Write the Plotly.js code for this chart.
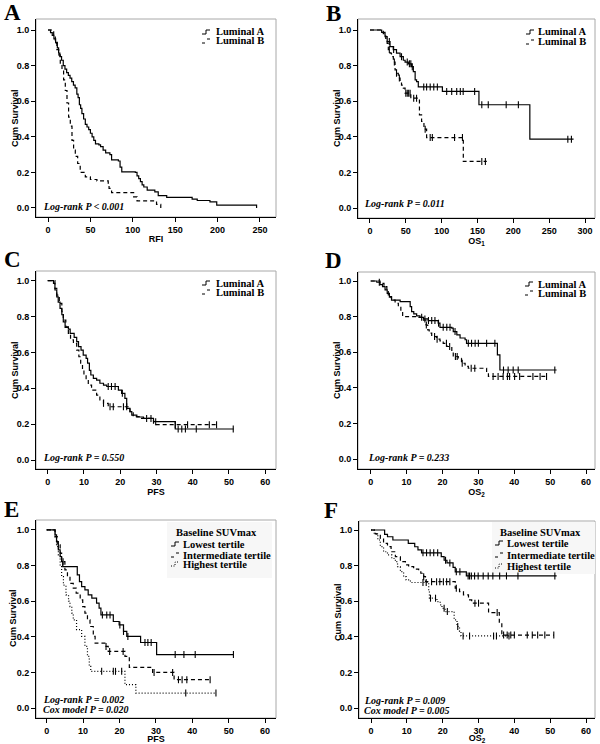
<!DOCTYPE html>
<html><head><meta charset="utf-8">
<script src="https://cdn.plot.ly/plotly-3.0.1.min.js"></script>
<style>html,body{margin:0;padding:0;background:#fff}#chart{width:600px;height:744px}</style>
</head><body><div id="chart"></div>
<script>
// ---------- DATA (Kaplan-Meier step points) ----------
// Panel A : RFI
const A_lumA_t = [0,3,5,7,9,11,12.5,14,16,18,20,22,24,26,28,30,32,34,35.5,37,38.5,40,42,44,46,48,50,52,54,56,60,62,65,68,73,75,83,85,87,103,105,107,109,111,113,117,126,130,140,170,176,191,199,246];
const A_lumA_s = [1,0.985,0.97,0.95,0.93,0.9,0.87,0.85,0.83,0.8,0.78,0.76,0.745,0.73,0.71,0.69,0.675,0.64,0.62,0.58,0.56,0.53,0.5,0.47,0.455,0.44,0.42,0.4,0.38,0.36,0.355,0.345,0.325,0.31,0.3,0.27,0.264,0.23,0.203,0.2,0.18,0.165,0.148,0.13,0.118,0.1,0.09,0.07,0.06,0.05,0.042,0.034,0.016,0];
const A_lumA_c = [];
const A_lumB_t = [0,5,6.7,8.6,10.5,12.6,14.5,16.5,18.4,20.4,22.4,24.3,26.3,28.3,30.2,32.2,35,38,44,50,57.7,71,72,75,101,105,128,133];
const A_lumB_s = [1,0.99,0.96,0.925,0.89,0.86,0.81,0.78,0.72,0.66,0.59,0.51,0.46,0.38,0.325,0.29,0.25,0.2,0.175,0.16,0.152,0.14,0.11,0.086,0.062,0.04,0.02,0];
const A_lumB_c = [];
// Panel B : OS1
const B_lumA_t = [0,13,16.3,21,24,28,32.5,37,42,46.5,49,53.5,58,60.5,63,65,67.4,101,152,223,284];
const B_lumA_s = [1,1,0.987,0.963,0.935,0.907,0.89,0.87,0.85,0.83,0.82,0.81,0.794,0.766,0.72,0.71,0.68,0.655,0.58,0.387,0.387];
const B_lumA_c = [27,33,44,52,55,57,59,75,79,84,89,94,107,114,121,126,130,146,156,165,190,207,276,281];
const B_lumB_t = [0,16,18.6,22,24,25.6,28,30,32.6,35,37,39.5,42,44,46.5,49,57,69,72,75.3,79,130.2,163];
const B_lumB_s = [1,1,0.98,0.953,0.925,0.89,0.87,0.85,0.82,0.776,0.757,0.73,0.71,0.69,0.673,0.645,0.617,0.523,0.486,0.443,0.396,0.262,0.262];
const B_lumB_c = [27,34,37,41,50,52,54,56,61,65,77,84,87,118,129,156,161];
// Panel C : PFS
const C_lumA_t = [0,1.1,1.6,2.0,2.5,2.9,3.4,3.9,4.3,4.8,5.7,6.2,7.3,8.0,8.5,9.2,9.8,10.6,11,11.5,11.9,12.6,13.5,14.4,15.4,16.3,19.5,20.4,21.3,21.8,22.7,23.2,24.6,26.4,29.2,35.2,51.3];
const C_lumA_s = [1,1,0.985,0.948,0.91,0.88,0.846,0.81,0.77,0.74,0.73,0.706,0.684,0.66,0.632,0.613,0.585,0.567,0.54,0.5,0.474,0.455,0.446,0.428,0.418,0.41,0.39,0.372,0.344,0.288,0.27,0.25,0.24,0.232,0.214,0.173,0.173];
const C_lumA_c = [16.7,17.6,18.6,20.6,27.3,28.5,29.8,36,37,38,41,51.2];
const C_lumB_t = [0,1.5,2,2.5,3.2,3.9,4.3,5,5.7,6.3,7.1,8,8.6,9.1,9.6,10,10.6,11.2,12.1,13.5,14.4,15.4,16.7,22.7,23.6,25.5,29.2,46.6];
const C_lumB_s = [1,1,0.957,0.92,0.874,0.827,0.78,0.743,0.706,0.67,0.65,0.613,0.576,0.54,0.5,0.474,0.446,0.418,0.39,0.362,0.335,0.316,0.297,0.27,0.242,0.232,0.197,0.197];
const C_lumB_c = [15.4,17.2,18.1,20.9,21.8,35.2,38.6,44.6,46.6];
// Panel D : OS2
const D_lumA_t = [0,1.2,1.7,2.6,3.3,4,4.6,5.2,5.8,8.2,11,11.4,12,12.8,13.7,14.7,16,18.8,19.3,22.6,23,24,24.9,26.3,26.7,35.3,36,51.8];
const D_lumA_s = [1,1,0.993,0.98,0.968,0.95,0.93,0.91,0.893,0.884,0.856,0.828,0.815,0.804,0.796,0.787,0.778,0.763,0.74,0.735,0.716,0.697,0.68,0.67,0.65,0.585,0.5,0.5];
const D_lumA_c = [2.4,14.2,15.1,16.1,17,17.9,18.9,20.2,21.2,22.1,23.5,27.2,28.1,29.1,30,32.3,34.6,37,38.3,39.7,41.1,51.3];
const D_lumB_t = [0,1.7,2.6,3.7,4.5,4.9,5.8,6.8,7.7,8.4,8.9,13,14.7,15.4,15.9,16.3,17,18.4,19.3,20.2,21.2,22.6,23,24.4,25.3,26.3,27.2,32.3,32.8,49];
const D_lumB_s = [1,1,0.987,0.968,0.94,0.912,0.893,0.875,0.856,0.828,0.8,0.796,0.78,0.753,0.725,0.707,0.688,0.673,0.664,0.65,0.632,0.604,0.576,0.566,0.538,0.52,0.51,0.486,0.464,0.464];
const D_lumB_c = [15.5,17.8,18.5,21.1,22,23.6,24.1,25.5,28,29,34.1,35.5,36.9,38.1,38.7,40.1,41.5,45.2,47.2,49];
// Panel E : PFS by baseline SUVmax tertile
const E_low_t = [0,1.8,2.3,2.7,3.2,3.7,4.1,4.4,8.4,9,9.6,10.5,11.4,12.4,13.7,14.4,14.9,18.3,19.9,21.1,22,25.8,30.2,51.3];
const E_low_s = [1,1,0.972,0.935,0.888,0.85,0.822,0.794,0.748,0.71,0.682,0.664,0.636,0.617,0.589,0.561,0.523,0.486,0.467,0.43,0.402,0.368,0.3,0.3];
const E_low_c = [15.3,16.5,17.4,20.1,21.1,22.3,27,27.8,28.7,35.3,37.7,40.8,51.3];
const E_mid_t = [0,2.3,2.9,3.7,4.1,5,5.7,6.4,7.3,8.1,9.2,9.9,10.5,11.2,11.9,12.8,13.3,16.3,16.9,21.5,22.7,29.1,35,44.9];
const E_mid_s = [1,0.963,0.916,0.87,0.822,0.776,0.738,0.7,0.673,0.645,0.607,0.57,0.533,0.495,0.458,0.402,0.364,0.346,0.318,0.29,0.228,0.2,0.159,0.159];
const E_mid_c = [4.5,16.3,17.3,21,29.5,34.6,36.2,37.2,38.5,44.9];
const E_high_t = [0,1.8,2.3,2.7,3.2,3.7,4.1,4.6,5.3,6,6.4,6.9,7.3,8.2,9.6,10.5,11.2,11.7,12.1,21.5,24.5,46.5];
const E_high_s = [1,1,0.953,0.907,0.86,0.794,0.738,0.69,0.636,0.6,0.57,0.533,0.495,0.44,0.402,0.346,0.29,0.234,0.206,0.131,0.084,0.084];
const E_high_c = [15.1,18.3,18.9,20.6,38.2,46.5];
// Panel F : OS2 by baseline SUVmax tertile
const F_low_t = [0,3.8,4.6,6.1,10.4,12.2,13.1,14.1,19.6,20.4,21.2,22.9,23.5,26.6,51.8];
const F_low_s = [1,0.976,0.962,0.944,0.925,0.906,0.888,0.872,0.85,0.83,0.815,0.79,0.765,0.742,0.742];
const F_low_c = [14.5,15.5,16.5,17.5,18.6,20.8,22,23.8,24.8,27.1,27.5,28,28.9,29.9,31.3,32.7,34,35.9,37.8,41,51.3];
const F_mid_t = [0,1.2,2.6,3.5,4.6,5.6,6.8,8.2,9.6,10.5,11.9,13.3,13.9,14.7,15.2,23.5,24.7,25.8,27.2,28.1,32.8,35.8,36.5,51];
const F_mid_s = [1,0.978,0.953,0.925,0.907,0.878,0.85,0.822,0.804,0.794,0.78,0.772,0.757,0.738,0.71,0.673,0.654,0.636,0.607,0.589,0.536,0.477,0.41,0.41];
const F_mid_c = [14.7,16.9,18.3,19.2,20.2,21.1,22,23.8,29,30,35.2,37,38,39,40,43.6,45,46.5,48.5,51];
const F_high_t = [0,0.9,1.9,2.6,3.5,4.6,5.8,6.8,7.4,8.2,9.1,9.8,11,16.1,16.3,18.4,19.3,19.8,20.7,23.2,24,24.7,25.1,39];
const F_high_s = [1,0.978,0.944,0.907,0.878,0.86,0.84,0.822,0.794,0.766,0.738,0.72,0.705,0.654,0.617,0.598,0.58,0.56,0.542,0.495,0.458,0.43,0.405,0.405];
const F_high_c = [14.5,15.4,16.6,18,20.4,21.3,24.2,25.7,27.5,34.2,35,38.5];

const yTickVals = [0,0.2,0.4,0.6,0.8,1.0];
const yTickText = ['0.0','0.2','0.4','0.6','0.8','1.0'];
const yTitle = 'Cum Survival';
const lumLabels = ['Luminal A','Luminal B'];
const suvLabels = ['Lowest tertile','Intermediate tertile','Highest tertile'];
const suvTitle = 'Baseline SUVmax';
const pTexts = {A:['Log-rank P < 0.001'],B:['Log-rank P = 0.011'],C:['Log-rank P = 0.550'],D:['Log-rank P = 0.233'],
  E:['Log-rank P = 0.002','Cox model P = 0.020'],F:['Log-rank P = 0.009','Cox model P = 0.005']};

// ---------- HELPERS ----------
const W=600,H=744;
const X=p=>p/W, Y=p=>1-p/H;
function stepAt(t,T,S){let v=S[0];for(let i=0;i<T.length;i++){if(T[i]<=t)v=S[i];}return v;}
const DASH={solid:'solid',dash:'4px,3px',dot:'1px,2px'};
const traces=[];
function km(T,S,C,ax,style){
  const xa='x'+ax, ya='y'+ax;
  traces.push({x:T,y:S,mode:'lines',line:{shape:'hv',color:'#000',width:1.2,dash:DASH[style]},xaxis:xa,yaxis:ya,hoverinfo:'skip'});
  if(C.length) traces.push({x:C,y:C.map(c=>stepAt(c,T,S)),mode:'markers',xaxis:xa,yaxis:ya,hoverinfo:'skip',
    marker:{symbol:'line-ns-open',size:5,color:'#000',line:{width:1.1,color:'#000'}}});
}
km(A_lumA_t,A_lumA_s,A_lumA_c,'','solid'); km(A_lumB_t,A_lumB_s,A_lumB_c,'','dash');
km(B_lumA_t,B_lumA_s,B_lumA_c,'2','solid'); km(B_lumB_t,B_lumB_s,B_lumB_c,'2','dash');
km(C_lumA_t,C_lumA_s,C_lumA_c,'3','solid'); km(C_lumB_t,C_lumB_s,C_lumB_c,'3','dash');
km(D_lumA_t,D_lumA_s,D_lumA_c,'4','solid'); km(D_lumB_t,D_lumB_s,D_lumB_c,'4','dash');
km(E_low_t,E_low_s,E_low_c,'5','solid'); km(E_mid_t,E_mid_s,E_mid_c,'5','dash'); km(E_high_t,E_high_s,E_high_c,'5','dot');
km(F_low_t,F_low_s,F_low_c,'6','solid'); km(F_mid_t,F_mid_s,F_mid_c,'6','dash'); km(F_high_t,F_high_s,F_high_c,'6','dot');

// ---------- LAYOUT ----------
const sans='Liberation Sans, Arial, sans-serif', serif='Liberation Serif, Times New Roman, serif';
const panels=[
 {k:'',L:'A',box:[36,276,19,217],xr:[-14.15,268.9],yr:[-0.0506,1.0618],dt:50,xt:'RFI',letter:[2,13],yt:[15,118],leg:{sx:202,tx:215,rows:[32,41]},p:[42,207]},
 {k:'2',L:'B',box:[358,595,19,218],xr:[-16.7,313.9],yr:[-0.056,1.0618],dt:50,xt:'OS<sub>1</sub>',letter:[324,14],yt:[337,118],leg:{sx:526,tx:537,rows:[32,42]},p:[363,204]},
 {k:'3',L:'C',box:[36,276,271,469],xr:[-3.23,63.0],yr:[-0.050,1.054],dt:10,xt:'PFS',letter:[2,259],yt:[15,370],leg:{sx:202,tx:215,rows:[283,292]},p:[42,457]},
 {k:'4',L:'D',box:[358,595,272,469],xr:[-3.54,62.5],yr:[-0.056,1.0506],dt:10,xt:'OS<sub>2</sub>',letter:[323,260],yt:[337,370],leg:{sx:525,tx:537,rows:[284,293]},p:[367,457]},
 {k:'5',L:'E',box:[36,276,520,718],xr:[-2.94,63.0],yr:[-0.056,1.056],dt:10,xt:'PFS',letter:[2,510],yt:[13,618],leg:{sx:171,tx:182,rows:[544,555,564],title:[216,532],bg:[167,272,522,578]},p:[42,699]},
 {k:'6',L:'F',box:[359,595,521,718],xr:[-3.35,62.5],yr:[-0.056,1.0506],dt:10,xt:'OS<sub>2</sub>',letter:[322,511],yt:[338,612],leg:{sx:495,tx:506,rows:[543,555,566],title:[540,532],bg:[492,595,522,574]},p:[363,700]}
];
const layout={width:W,height:H,margin:{l:0,r:0,t:0,b:0},paper_bgcolor:'#fff',plot_bgcolor:'#fff',showlegend:false,annotations:[],shapes:[]};
const tickfont={family:sans,size:9,color:'#000',weight:'bold'};
const ser=(sz,extra)=>Object.assign({family:serif,size:sz,color:'#000',weight:'bold'},extra||{});
panels.forEach(P=>{
  const [x0,x1,y0,y1]=P.box;
  layout['xaxis'+P.k]={domain:[X(x0),X(x1)],range:P.xr,anchor:'y'+P.k,dtick:P.dt,tick0:0,showline:true,linecolor:'#000',linewidth:1,
    ticks:'outside',ticklen:4,tickcolor:'#000',showgrid:false,zeroline:false,fixedrange:true,tickfont,
    title:{text:P.xt,font:{family:sans,size:9,color:'#000',weight:'bold'},standoff:1}};
  layout['yaxis'+P.k]={domain:[Y(y1),Y(y0)],range:P.yr,anchor:'x'+P.k,tickvals:yTickVals,ticktext:yTickText,showline:true,linecolor:'#000',linewidth:1,
    ticks:'outside',ticklen:4,tickcolor:'#000',showgrid:false,zeroline:false,fixedrange:true,tickfont};
  // y-axis title
  layout.annotations.push({xref:'paper',yref:'paper',x:X(P.yt[0]),y:Y(P.yt[1]),xanchor:'center',yanchor:'middle',textangle:-90,showarrow:false,
    text:yTitle,font:{family:sans,size:9,color:'#000',weight:'bold'}});
  // light frame around plot area
  layout.shapes.push({type:'rect',xref:'x'+P.k+' domain',yref:'y'+P.k+' domain',x0:0,x1:1,y0:0,y1:1,line:{color:'#a8a8a8',width:1},layer:'below'});
  // panel letter
  layout.annotations.push({xref:'paper',yref:'paper',x:X(P.letter[0]),y:Y(P.letter[1]),xanchor:'left',yanchor:'middle',showarrow:false,
    text:P.L,font:ser(23)});
  // p-values
  pTexts[P.L].forEach((t,i)=>layout.annotations.push({xref:'paper',yref:'paper',x:X(P.p[0]),y:Y(P.p[1]+i*10),xanchor:'left',yanchor:'middle',
    showarrow:false,borderpad:0,text:t,font:ser(10,{style:'italic'})}));
  // legend
  const lg=P.leg;
  const labels = lg.title ? suvLabels : lumLabels;
  const styles = ['solid','dash','dot'];
  if(lg.bg) layout.shapes.push({type:'rect',xref:'paper',yref:'paper',x0:X(lg.bg[0]),x1:X(lg.bg[1]),y0:Y(lg.bg[3]),y1:Y(lg.bg[2]),fillcolor:'#f7f7f7',line:{width:0},layer:'below'});
  if(lg.title) layout.annotations.push({xref:'paper',yref:'paper',x:X(lg.title[0]),y:Y(lg.title[1]),xanchor:'center',yanchor:'middle',showarrow:false,borderpad:0,text:suvTitle,font:ser(10.5)});
  labels.forEach((lab,i)=>{
    const yc=lg.rows[i], sx=lg.sx;
    layout.annotations.push({xref:'paper',yref:'paper',x:X(lg.tx),y:Y(yc),xanchor:'left',yanchor:'middle',showarrow:false,borderpad:0,text:lab,font:ser(10.5)});
    const st=styles[i];
    let path;
    if(st==='dash') path=`M${X(sx)},${Y(yc+2)} H${X(sx+3)} M${X(sx+5)},${Y(yc-2)} H${X(sx+8)}`;
    else path=`M${X(sx)},${Y(yc+2)} H${X(sx+4)} V${Y(yc-2)} H${X(sx+8)}`;
    layout.shapes.push({type:'path',xref:'paper',yref:'paper',path,line:{color:'#000',width:1,dash:st==='dot'?'1px,1.5px':'solid'}});
  });
});
Plotly.newPlot('chart',traces,layout,{staticPlot:true,displayModeBar:false});
</script></body></html>
